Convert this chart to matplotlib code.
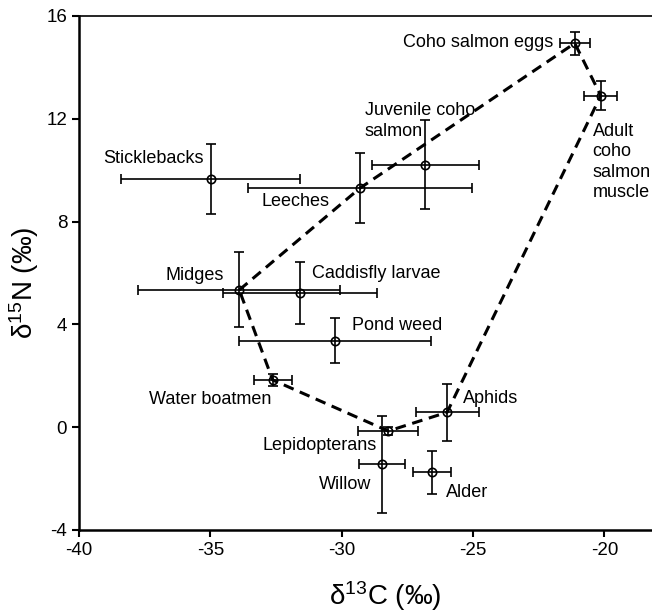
import matplotlib.pyplot as plt

plt.rcParams['font.family'] = ['Liberation Sans', 'DejaVu Sans']
plt.rcParams['mathtext.default'] = 'regular'
plt.rcParams['axes.unicode_minus'] = False

# =========================
# Data
# =========================
taxa = ["Coho salmon eggs", "Adult coho salmon muscle", "Juvenile coho salmon",
        "Leeches", "Sticklebacks", "Midges", "Caddisfly larvae", "Pond weed",
        "Water boatmen", "Lepidopterans", "Willow", "Alder", "Aphids"]
d13c = [-21.13, -20.14, -26.82, -29.31, -34.98, -33.90, -31.59, -30.26,
        -32.63, -28.23, -28.47, -26.57, -25.99]
d15n = [14.94, 12.90, 10.21, 9.30, 9.65, 5.34, 5.22, 3.37,
        1.84, -0.15, -1.44, -1.76, 0.58]
d13c_err = [0.57, 0.63, 2.03, 4.27, 3.41, 3.85, 2.93, 3.65,
            0.72, 1.14, 0.88, 0.73, 1.20]
d15n_err = [0.45, 0.57, 1.73, 1.36, 1.35, 1.46, 1.22, 0.89,
            0.24, 0.15, 1.88, 0.84, 1.11]

# hull outline (order of taxa around the polygon)
hull = ["Midges", "Leeches", "Coho salmon eggs", "Adult coho salmon muscle",
        "Aphids", "Lepidopterans", "Water boatmen", "Midges"]

# label text, anchor (x, y) and alignment
label_text = ["Coho salmon eggs", "Adult\ncoho\nsalmon\nmuscle", "Juvenile coho\nsalmon",
              "Leeches", "Sticklebacks", "Midges", "Caddisfly larvae", "Pond weed",
              "Water boatmen", "Lepidopterans", "Willow", "Alder", "Aphids"]
label_x = [-21.96, -20.45, -29.12, -33.05, -35.27, -34.48, -31.15, -29.60,
           -37.32, -33.03, -28.89, -26.05, -25.38]
label_y = [14.97, 10.32, 11.91, 8.77, 10.46, 5.92, 5.99, 3.94,
           1.09, -0.72, -2.22, -2.55, 1.10]
label_ha = ["right", "left", "left", "left", "right", "right", "left", "left",
            "left", "left", "right", "left", "left"]

# =========================
# Plot
# =========================
fig = plt.figure(figsize=(6.52, 6.12), dpi=100)
ax = fig.add_axes([79 / 652, 82 / 612, 578 / 652, 514 / 612])

hx = [d13c[taxa.index(t)] for t in hull]
hy = [d15n[taxa.index(t)] for t in hull]
ax.plot(hx, hy, color="black", lw=2.2, ls=(0, (3.5, 2.2)), zorder=2)

ax.errorbar(d13c, d15n, xerr=d13c_err, yerr=d15n_err, fmt="o", mfc="none",
            mec="black", ms=6, mew=1.2, ecolor="black", elinewidth=1.2,
            capsize=3.5, capthick=1.2, zorder=3)

for txt, x, y, ha in zip(label_text, label_x, label_y, label_ha):
    ax.text(x, y, txt, ha=ha, va="center", fontsize=13, linespacing=1.25)

ax.set_xlim(-40, -18)
ax.set_ylim(-4, 16)
ax.set_xticks([-40, -35, -30, -25, -20])
ax.set_yticks([-4, 0, 4, 8, 12, 16])
ax.tick_params(direction="out", length=5, width=1.5, labelsize=13.5)
ax.tick_params(top=False, right=False)
for s in ["left", "bottom"]:
    ax.spines[s].set_linewidth(1.8)
ax.spines["top"].set_linewidth(1.2)
ax.spines["right"].set_visible(False)

ax.set_xlabel(r"δ$^{13}$C (‰)", fontsize=20)
ax.xaxis.set_label_coords(0.53, -0.095)
ax.set_ylabel(r"δ$^{15}$N (‰)", fontsize=20)
ax.yaxis.set_label_coords(-0.066, 0.48)

plt.savefig("out.png", dpi=100)
